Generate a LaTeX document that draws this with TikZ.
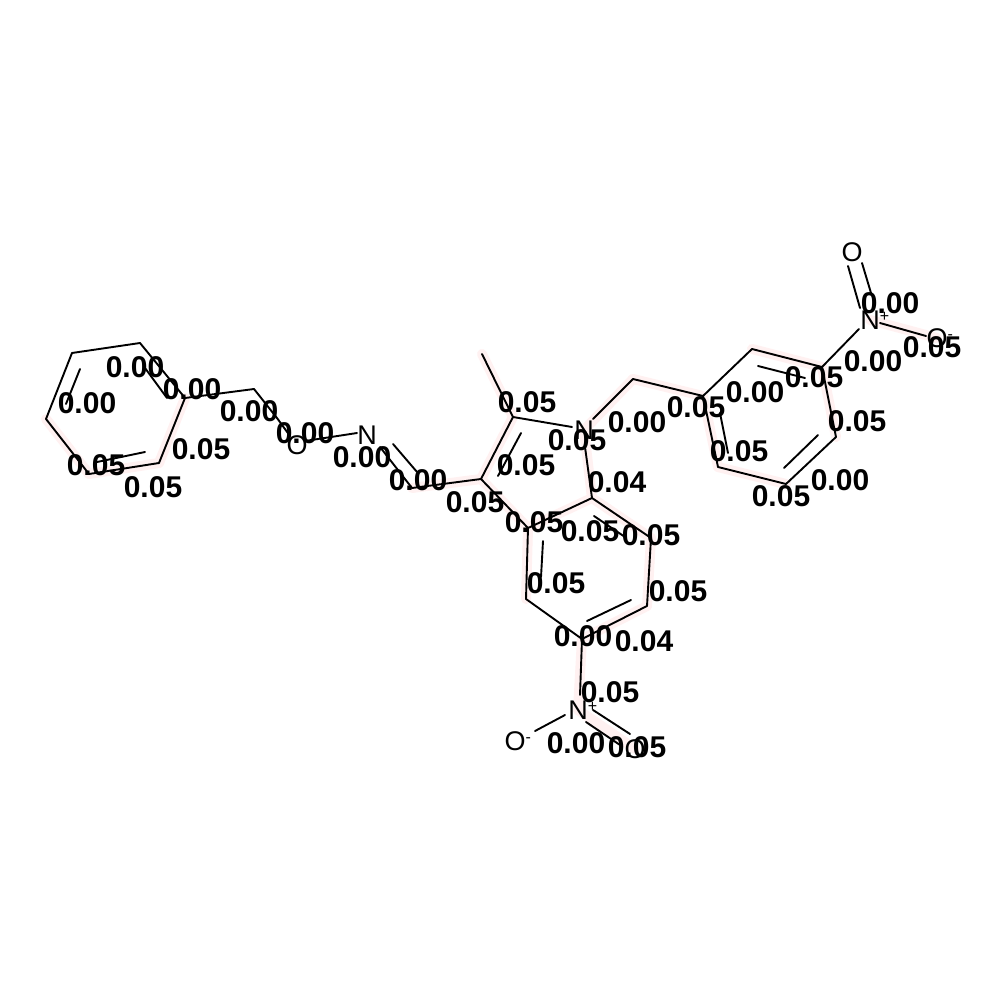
\documentclass[tikz,border=0pt]{standalone}
\usepackage{fontspec}
\setmainfont{Liberation Sans}
\definecolor{hl}{HTML}{FFF1F1}
\tikzset{
  bond/.style={draw=black,line width=1.9pt,line cap=round},
  glow/.style={draw=hl,line width=10pt,line cap=round},
  atomlab/.style={inner sep=0pt,font=\fontsize{27}{27}\selectfont},
  score/.style={inner sep=0pt,font=\fontsize{30}{30}\selectfont\bfseries}
}
\newcommand{\chg}[1]{\rlap{\raisebox{8pt}{\fontsize{16}{16}\selectfont #1}}}
\begin{document}
\begin{tikzpicture}[x=1pt,y=-1pt]
\useasboundingbox (0,0) rectangle (1000,1000);
\fill[white] (0,0) rectangle (1000,1000);
% skeleton points
\foreach \n/\x/\y in {a1/72/353,a2/140/343,a3/185/398,a4/159/463,a5/89/474,a6/46/419,
 b1/254/389,b2/412/488,c1/481/479,c2/513/417,me/482/354,ch/633/379,
 r1/592/498,r2/651/538,r3/647/606,r4/582/639,r5/526/599,r6/528/528,
 s1/703/396,s2/752/349,s3/822/367,s4/836/437,s5/786/484,s6/718/467,
 i1s/80/369,i1e/66/404,i2s/145/368,i2e/167/398,i3s/145/452,i3e/97/462,
 i4s/521/433,i4e/498/476,i5s/594/516,i5e/625/537,i6s/543/541,i6e/541/577,
 i7s/631/600,i7e/587/621,i8s/758/366,i8e/805/378,i9s/818/435,i9e/784/468,
 i10s/720/413,i10e/728/453,
 no1/305/441,no2/357/433,oc1/277/418,oc2/290/436,nc1/380/447,nc2/393/444,nc3/417/472,
 cn/572/427,nc/593/419,nd/585/447,
 n2a/580/695,n2b/565/715,o2b/535/731,n2c/593/710,o2c/630/734,n2d/586/722,o2d/620/745,
 n3a/859/329,n3b/860/308,o3b/848/266,n3c/871/293,o3c/862/263,n3d/880/323,o3d/926/336}
 {\coordinate (\n) at (\x,\y);}
\coordinate (nA) at (584,430);
\coordinate (nB) at (578,710);
\coordinate (nC) at (870,320);
\coordinate (oB) at (635,749);
\coordinate (oD) at (937,338);
% highlights
\foreach \p/\q in {a6/a5,a5/a4,a4/a3,me/c2,c2/c1,c1/b2,c1/r6,r6/r1,r1/nA,r1/r2,r2/r3,r3/r4,r4/nB,nB/oB,r6/r5,
 ch/s1,s1/s6,s6/s5,s2/s3,s3/s4,nC/oD,nA/ch}
 {\draw[glow] (\p) -- (\q);}
% bonds
\foreach \p/\q in {a1/a2,a2/a3,a3/a4,a4/a5,a5/a6,a6/a1,i1s/i1e,i2s/i2e,i3s/i3e,a3/b1,b1/oc1,oc1/oc2,no1/no2,
 nc1/b2,nc2/nc3,b2/c1,c1/c2,i4s/i4e,me/c2,c2/cn,nc/ch,nd/r1,c1/r6,r6/r1,r1/r2,r2/r3,r3/r4,r4/r5,r5/r6,
 i5s/i5e,i6s/i6e,i7s/i7e,r4/n2a,n2b/o2b,n2c/o2c,n2d/o2d,ch/s1,s1/s2,s2/s3,s3/s4,s4/s5,s5/s6,s6/s1,
 i8s/i8e,i9s/i9e,i10s/i10e,s3/n3a,n3b/o3b,n3c/o3c,n3d/o3d}
 {\draw[bond] (\p) -- (\q);}
% atoms
\node[atomlab] (oA) at (297,445) {O};
\node[atomlab] (nN) at (367,435) {N};
\node[atomlab] (nNA) at (nA) {N};
\node[atomlab] (nNB) at (nB) {N\chg{+}};
\node[atomlab] (oNB) at (515,741) {O\chg{-}};
\node[atomlab] (oNB2) at (oB) {O};
\node[atomlab] (nNC) at (nC) {N\chg{+}};
\node[atomlab] (oNC) at (852,252) {O};
\node[atomlab] (oNC2) at (oD) {O\chg{-}};
% scores
\foreach \i/\x/\y/\t in {1/135/367/0.00,2/87/403/0.00,3/192/389/0.00,4/249/411/0.00,5/305/433/0.00,
 6/96/465/0.05,7/153/487/0.05,8/201/449/0.05,9/362/457/0.00,10/418/480/0.00,11/475/502/0.05,
 12/534/522/0.05,13/526/465/0.05,14/527/402/0.05,15/577/440/0.05,16/637/422/0.00,17/696/407/0.05,
 18/755/392/0.00,19/814/377/0.05,20/873/361/0.00,21/890/303/0.00,22/932/347/0.05,23/857/421/0.05,
 24/840/480/0.00,25/781/496/0.05,26/739/451/0.05,27/617/482/0.04,28/590/531/0.05,29/651/535/0.05,
 30/678/591/0.05,31/644/641/0.04,32/583/636/0.00,33/556/583/0.05,34/610/692/0.05,35/576/743/0.00,36/637/747/0.05}
 {\node[score] (s\i) at (\x,\y) {\t};}
\end{tikzpicture}
\end{document}
